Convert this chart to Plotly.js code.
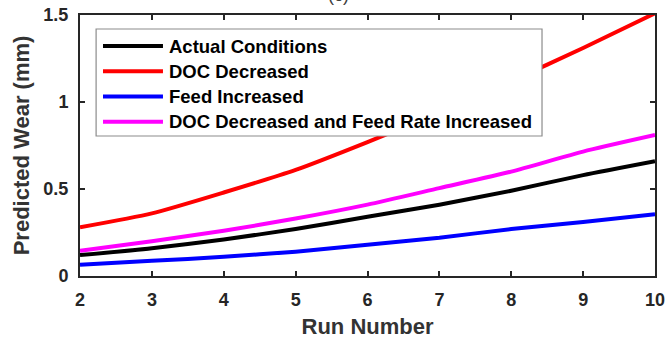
<!DOCTYPE html>
<html>
<head>
<meta charset="utf-8">
<script src="https://cdn.plot.ly/plotly-3.0.1.min.js"></script>
<style>
  html, body { margin: 0; padding: 0; background: #fff; }
  #chart { width: 665px; height: 342px; }
</style>
</head>
<body>
<div id="chart"></div>
<script>
// Predicted tool wear over successive runs for four cutting scenarios
const runNumbers = [2, 3, 4, 5, 6, 7, 8, 9, 10];
const actualConditions = [0.12, 0.16, 0.21, 0.27, 0.34, 0.41, 0.49, 0.58, 0.66];
const docDecreased = [0.28, 0.36, 0.48, 0.61, 0.77, 0.94, 1.12, 1.31, 1.51];
const feedIncreased = [0.064, 0.087, 0.11, 0.14, 0.18, 0.22, 0.27, 0.31, 0.355];
const docDecFeedInc = [0.145, 0.20, 0.26, 0.33, 0.41, 0.505, 0.60, 0.715, 0.81];
const seriesNames = ['Actual Conditions', 'DOC Decreased', 'Feed Increased',
                     'DOC Decreased and Feed Rate Increased'];
const seriesColors = ['#000000', '#ff0000', '#0000ff', '#ff00ff'];
const seriesValues = [actualConditions, docDecreased, feedIncreased, docDecFeedInc];

const traces = seriesValues.map((vals, i) => ({
  x: runNumbers,
  y: vals,
  type: 'scatter',
  mode: 'lines',
  name: seriesNames[i],
  line: { color: seriesColors[i], width: 4, shape: 'spline', smoothing: 0.6 }
}));

const axisColor = '#262626';
const fam = 'Liberation Sans, Arial, sans-serif';

// Legend box drawn in paper coordinates: frame, a line sample per series, and its label
const legendBox = { x0: 0.028, x1: 0.8035, y0: 0.5364, y1: 0.9464 };
const legendRowTop = 0.8812, legendRowStep = 0.0966;
const legendShapes = [{
  type: 'rect', xref: 'paper', yref: 'paper',
  x0: legendBox.x0, x1: legendBox.x1, y0: legendBox.y0, y1: legendBox.y1,
  line: { color: '#8c8c8c', width: 1.2 }, fillcolor: '#ffffff', layer: 'above'
}];
const legendLabels = [];
seriesNames.forEach((name, i) => {
  const yRow = legendRowTop - i * legendRowStep;
  legendShapes.push({
    type: 'line', xref: 'paper', yref: 'paper',
    x0: 0.040, x1: 0.1443, y0: yRow, y1: yRow,
    line: { color: seriesColors[i], width: 4 }, layer: 'above'
  });
  legendLabels.push({
    text: name, xref: 'paper', yref: 'paper', x: 0.151, y: yRow,
    xanchor: 'left', yanchor: 'middle', showarrow: false,
    font: { family: fam, size: 18.5, color: '#000000', weight: 'bold' }
  });
});

const layout = {
  width: 665,
  height: 342,
  margin: { l: 80, r: 10, t: 15, b: 66 },
  paper_bgcolor: '#ffffff',
  plot_bgcolor: '#ffffff',
  font: { family: fam, color: axisColor },
  showlegend: false,
  xaxis: {
    range: [2, 10],
    tickvals: runNumbers,
    ticktext: runNumbers.map(String),
    ticks: 'inside', ticklen: 5, tickwidth: 2, tickcolor: axisColor,
    showline: true, linecolor: axisColor, linewidth: 2, mirror: 'ticks',
    showgrid: false, zeroline: false, ticklabelstandoff: 6,
    ticklabeloverflow: 'allow',
    tickfont: { family: fam, size: 18, weight: 'bold', color: axisColor },
    title: { text: 'Run Number', font: { family: fam, size: 22, weight: 'bold', color: '#333333' }, standoff: 10 }
  },
  yaxis: {
    range: [0, 1.5],
    tickvals: [0, 0.5, 1, 1.5],
    ticktext: ['0', '0.5', '1', '1.5'],
    ticks: 'inside', ticklen: 5, tickwidth: 2, tickcolor: axisColor,
    showline: true, linecolor: axisColor, linewidth: 2, mirror: 'ticks',
    showgrid: false, zeroline: false, ticklabelstandoff: 6,
    tickfont: { family: fam, size: 18, weight: 'bold', color: axisColor },
    title: { text: 'Predicted Wear (mm)', font: { family: fam, size: 22, weight: 'bold', color: '#333333' }, standoff: 8 }
  },
  shapes: legendShapes,
  annotations: [{
    text: '(c)', xref: 'paper', yref: 'paper', x: 0.45, y: 1.03,
    xanchor: 'center', yanchor: 'bottom', showarrow: false,
    font: { family: fam, size: 18, color: '#404040' }
  }].concat(legendLabels)
};

Plotly.newPlot('chart', traces, layout, { displayModeBar: false, staticPlot: true });
</script>
</body>
</html>
